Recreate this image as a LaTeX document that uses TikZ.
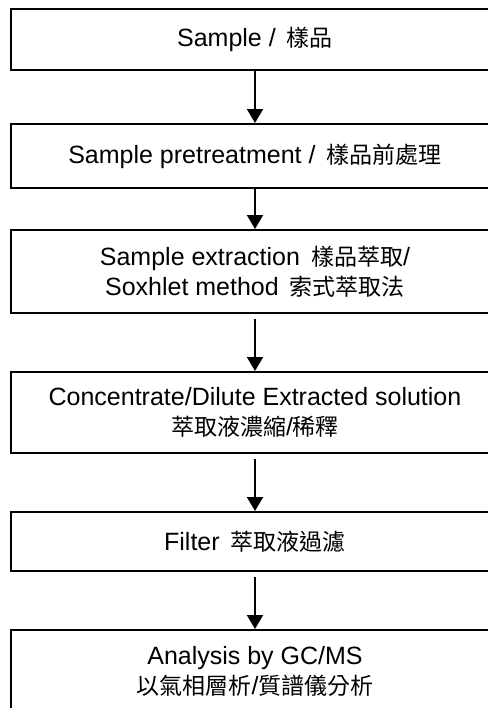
\documentclass[tikz,border=0pt]{standalone}
\usepackage{fontspec}
\setmainfont{Liberation Sans}
\newfontfamily\cjk[Scale=0.92]{Noto Sans CJK TC}
\usepackage{tikz}
\usetikzlibrary{arrows.meta,positioning}

\begin{document}
\begin{tikzpicture}[
    x=0.5pt, y=-0.5pt,
    box/.style={rectangle, draw, line width=1pt, minimum width=244pt,
                align=center, inner sep=0pt, font=\fontsize{12.5}{15}\selectfont},
    arr/.style={-{Triangle[length=7pt,width=8pt]}, line width=1pt},
  ]
  \useasboundingbox (0,0) rectangle (488,708);
  \clip (0,0) rectangle (488,708);

  % Sample
  \node[box, minimum height=30.5pt] (sample) at (255, 39.5) {Sample /\, {\cjk 樣品}};

  % Pretreatment
  \node[box, minimum height=32pt] (pretreat) at (255, 156) {Sample pretreatment /\, {\cjk 樣品前處理}};

  % Extraction
  \node[box, minimum height=41.5pt] (extract) at (255, 271.5)
    {Sample extraction\, {\cjk 樣品萃取}/\\Soxhlet method\, {\cjk 索式萃取法}};

  % Concentrate / dilute
  \node[box, minimum height=40.5pt] (conc) at (255, 412.5)
    {Concentrate/Dilute Extracted solution\\{\cjk 萃取液濃縮}/{\cjk 稀釋}};

  % Filter
  \node[box, minimum height=29.5pt] (filter) at (255, 541.5) {Filter\, {\cjk 萃取液過濾}};

  % GC/MS analysis
  \node[box, minimum height=41.5pt] (analysis) at (255, 671.5)
    {Analysis by GC/MS\\{\cjk 以氣相層析}/{\cjk 質譜儀分析}};

  \draw[arr] (sample) -- (pretreat);
  \draw[arr] (pretreat) -- (extract);
  \draw[arr, shorten <=2.5pt] (extract) -- (conc);
  \draw[arr, shorten <=2.5pt] (conc) -- (filter);
  \draw[arr, shorten <=2.5pt] (filter) -- (analysis);

\end{tikzpicture}
\end{document}
